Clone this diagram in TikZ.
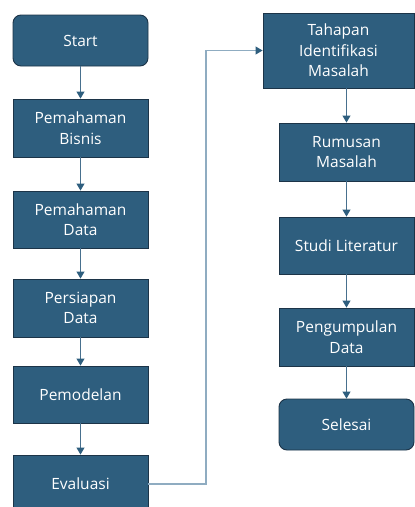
\documentclass[tikz,border=0pt]{standalone}
\usepackage{fontspec}
\setmainfont{Open Sans}
\usetikzlibrary{arrows.meta,positioning,calc}
\definecolor{boxfill}{RGB}{46,94,126}
\definecolor{boxline}{RGB}{28,52,72}
\definecolor{arrowcol}{RGB}{72,112,142}
\definecolor{linkcol}{RGB}{143,172,193}
\tikzset{
  stepbox/.style={draw=boxline,line width=0.9pt,fill=boxfill,text=white,
    align=center,minimum width=135pt,font=\fontsize{15.5}{20.5}\selectfont,inner sep=2pt},
  endbox/.style={stepbox,rounded corners=8pt},
  flow/.style={arrowcol,line width=0.9pt,-{Triangle[width=8pt,length=7pt,color=boxfill]}},
  link/.style={draw=linkcol,line width=1.1pt,-{Triangle[width=8pt,length=7pt,color=boxfill]}}
}
\begin{document}
\begin{tikzpicture}[x=1pt,y=-1pt]
\useasboundingbox (0,0) rectangle (415,507);
% left column
\node[endbox,minimum height=51pt] (start) at (80.5,40.5) {Start};
\node[stepbox,minimum height=58pt] (bisnis) at (80.5,128) {Pemahaman\\Bisnis};
\node[stepbox,minimum height=57pt] (pdata) at (80.5,219.5) {Pemahaman\\Data};
\node[stepbox,minimum height=58pt] (persiapan) at (80.5,308) {Persiapan\\Data};
\node[stepbox,minimum height=57pt] (pemodelan) at (80.5,394.5) {Pemodelan};
\node[stepbox,minimum height=58pt] (evaluasi) at (80.5,484) {Evaluasi};
% right column
\node[stepbox,minimum width=151pt,minimum height=75pt] (tahapan) at (338.5,50.5) {Tahapan\\Identifikasi\\Masalah};
\node[stepbox,minimum height=58pt] (rumusan) at (346.5,152) {Rumusan\\Masalah};
\node[stepbox,minimum height=57pt] (studi) at (346.5,245.5) {Studi Literatur};
\node[stepbox,minimum height=58pt] (kumpul) at (346.5,337) {Pengumpulan\\Data};
\node[endbox,minimum height=51pt] (selesai) at (346.5,424.5) {Selesai};
\coordinate (turn) at (206,484);
\path[flow]
(start) edge (bisnis)
(bisnis) edge (pdata)
(pdata) edge (persiapan)
(persiapan) edge (pemodelan)
(pemodelan) edge (evaluasi)
(tahapan.south -| rumusan.north) edge (rumusan.north)
(rumusan) edge (studi)
(studi) edge (kumpul)
(kumpul) edge (selesai);
\draw[link] (evaluasi.east) -- (turn) |- (tahapan.west);
\end{tikzpicture}
\end{document}
